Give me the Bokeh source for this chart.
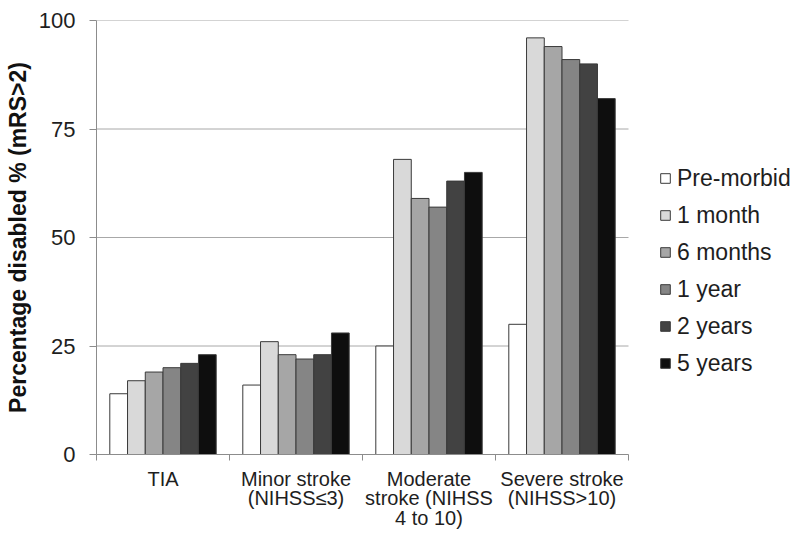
from bokeh.plotting import figure
from bokeh.models import (ColumnDataSource, Range1d, FixedTicker, Legend, LegendItem)
from bokeh.transform import dodge
from bokeh.embed import file_html
from bokeh.resources import INLINE

categories = ["TIA", "Minor stroke\n(NIHSS≤3)", "Moderate\nstroke (NIHSS\n4 to 10)", "Severe stroke\n(NIHSS>10)"]
series = ["Pre-morbid", "1 month", "6 months", "1 year", "2 years", "5 years"]
pre_morbid = [14, 16, 25, 30]
one_month = [17, 26, 68, 96]
six_months = [19, 23, 59, 94]
one_year = [20, 22, 57, 91]
two_years = [21, 23, 63, 90]
five_years = [23, 28, 65, 82]
y_ticks = [0, 25, 50, 75, 100]

values = [pre_morbid, one_month, six_months, one_year, two_years, five_years]
colors = ["#ffffff", "#d9d9d9", "#a6a6a6", "#858585", "#424242", "#0e0e0e"]

FONT = "Liberation Sans"
W, H = 800, 539
LEFT, TOP, BOTTOM = 96, 20, 85
AXIS_RIGHT = 628  # pixel where the category axis ends; legend lives to its right
n_cat = len(categories)
x_end = n_cat * (W - LEFT) / (AXIS_RIGHT - LEFT)

p = figure(width=W, height=H, output_backend="svg", toolbar_location=None,
           x_range=Range1d(0, x_end), y_range=Range1d(0, 100),
           min_border_left=LEFT, min_border_top=TOP, min_border_bottom=BOTTOM, min_border_right=0)
p.outline_line_color = None
p.background_fill_color = "white"
p.border_fill_color = "white"

centers = [i + 0.5 for i in range(n_cat)]
data = {"x": centers}
for s, v in zip(series, values):
    data[s] = v
src = ColumnDataSource(data)

# horizontal gridlines spanning only the category area
p.xgrid.grid_line_color = None
p.ygrid.grid_line_color = None
p.segment(x0=0, x1=n_cat, y0=y_ticks, y1=y_ticks, line_color="#a8a8a8", line_width=1)

n = len(series)
group = 0.8
bw = group / n
items = []
for i, (s, c) in enumerate(zip(series, colors)):
    off = -group / 2 + bw / 2 + i * bw
    r = p.vbar(x=dodge("x", off), top=s, width=bw, bottom=0, source=src,
               fill_color=c, line_color="#3a3a3a", line_width=1)
    items.append(LegendItem(label=s, renderers=[r]))

# axes
p.xaxis.bounds = (0, n_cat)
p.xaxis.ticker = FixedTicker(ticks=centers, minor_ticks=list(range(n_cat + 1)))
p.xaxis.major_label_overrides = {c: lab for c, lab in zip(centers, categories)}
p.xaxis.major_tick_out = 0
p.xaxis.major_tick_in = 0
p.xaxis.minor_tick_out = 6
p.xaxis.minor_tick_in = 0
p.xaxis.minor_tick_line_color = "#8c8c8c"
p.xaxis.axis_line_color = "#8c8c8c"
p.xaxis.major_label_text_font = FONT
p.xaxis.major_label_text_font_size = "20px"
p.xaxis.major_label_text_color = "#1e1e1e"
p.xaxis.major_label_text_line_height = 0.9
p.xaxis.major_label_standoff = 7
p.xaxis.major_label_orientation = "horizontal"

p.yaxis.ticker = FixedTicker(ticks=y_ticks)
p.yaxis.minor_tick_line_color = None
p.yaxis.major_tick_out = 7
p.yaxis.major_tick_in = 0
p.yaxis.major_tick_line_color = "#8c8c8c"
p.yaxis.axis_line_color = "#8c8c8c"
p.yaxis.major_label_text_font = FONT
p.yaxis.major_label_text_font_size = "22px"
p.yaxis.major_label_text_color = "#1e1e1e"
p.yaxis.major_label_standoff = 14
p.yaxis.axis_label = "Percentage disabled % (mRS>2)"
p.yaxis.axis_label_text_font = FONT
p.yaxis.axis_label_text_font_size = "23px"
p.yaxis.axis_label_text_font_style = "bold"
p.yaxis.axis_label_text_color = "#111111"
p.yaxis.axis_label_standoff = 5

legend = Legend(items=items, location=(563, 77), orientation="vertical",
                label_text_font=FONT, label_text_font_size="23px", label_text_color="#1e1e1e",
                glyph_width=12, glyph_height=12, label_standoff=6, label_height=28,
                spacing=9, padding=0, margin=0, border_line_color=None,
                background_fill_alpha=0)
p.add_layout(legend, "center")

open("out.html", "w").write(file_html(p, INLINE))
